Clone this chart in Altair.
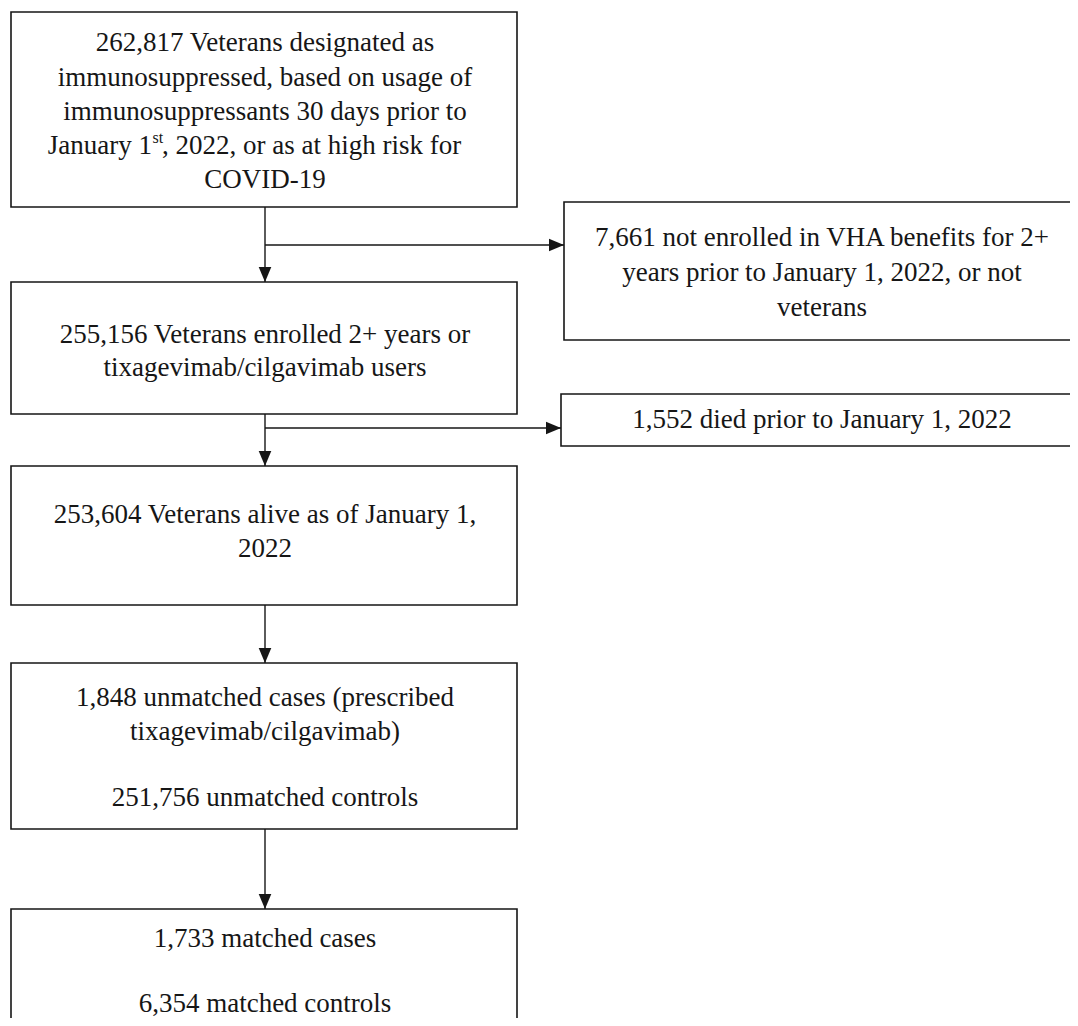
import altair as alt
import pandas as pd

# ---------------- content (text of the flow diagram) ----------------
main_box_lines = [
    ["262,817 Veterans designated as",
     "immunosuppressed, based on usage of",
     "immunosuppressants 30 days prior to",
     None,  # line with superscript, built from pieces below
     "COVID-19"],
    ["255,156 Veterans enrolled 2+ years or",
     "tixagevimab/cilgavimab users"],
    ["253,604 Veterans alive as of January 1,",
     "2022"],
    ["1,848 unmatched cases (prescribed",
     "tixagevimab/cilgavimab)",
     "251,756 unmatched controls"],
    ["1,733 matched cases",
     "6,354 matched controls"],
]
superscript_pieces = ["January 1", "st", ", 2022, or as at high risk for"]

excl_box_lines = [
    ["7,661 not enrolled in VHA benefits for 2+",
     "years prior to January 1, 2022, or not",
     "veterans"],
    ["1,552 died prior to January 1, 2022"],
]

# ---------------- layout (reference pixel coordinates) ----------------
main_x = [11, 517]
main_cx = 265
main_tops = [12, 282, 466, 663, 909]
main_bottoms = [207, 414, 605, 829, 1045]
main_line_y = [[43, 78, 112, 146, 180], [335, 368], [515, 549], [698, 732, 798], [939, 1004]]

excl_left = [564, 561]
excl_right = 1095
excl_tops = [202, 394]
excl_bottoms = [340, 446]
excl_cx = 822
excl_line_y = [[238, 273, 308], [420]]
branch_y = [245, 428]

sup_x = [152, 152.5, 162]
sup_y = [146, 138, 146]
sup_size = [27, 16, 27]
sup_align = ["right", "left", "left"]

FONT = "Liberation Serif, Times New Roman, DejaVu Serif, serif"
INK = "#161616"
FS = 27

# ---------------- tables ----------------
boxes = pd.DataFrame(
    [{"x0": main_x[0], "x1": main_x[1], "y0": t, "y1": b} for t, b in zip(main_tops, main_bottoms)]
    + [{"x0": l, "x1": excl_right, "y0": t, "y1": b} for l, t, b in zip(excl_left, excl_tops, excl_bottoms)]
)

texts = []
for lines, ys in zip(main_box_lines, main_line_y):
    for s, y in zip(lines, ys):
        if s is not None:
            texts.append({"x": main_cx, "y": y, "t": s})
for lines, ys in zip(excl_box_lines, excl_line_y):
    for s, y in zip(lines, ys):
        texts.append({"x": excl_cx, "y": y, "t": s})
texts = pd.DataFrame(texts)

sup = pd.DataFrame({"x": sup_x, "y": sup_y, "t": superscript_pieces,
                    "fs": sup_size, "al": sup_align})

vlines = pd.DataFrame({"x": [main_cx] * 4, "y0": main_bottoms[:4], "y1": main_tops[1:]})
hlines = pd.DataFrame({"x0": [main_cx] * 2, "x1": excl_left, "y": branch_y})

xs = alt.Scale(domain=[8, 1070], nice=False, zero=False)
ys = alt.Scale(domain=[8, 1018], nice=False, zero=False, reverse=True)

rects = alt.Chart(boxes).mark_rect(fill="white", stroke=INK, strokeWidth=1.6, clip=True).encode(
    x=alt.X("x0:Q", scale=xs, axis=None), x2="x1:Q",
    y=alt.Y("y0:Q", scale=ys, axis=None), y2="y1:Q")

vrules = alt.Chart(vlines).mark_rule(color=INK, strokeWidth=1.4).encode(
    x=alt.X("x:Q", scale=xs, axis=None),
    y=alt.Y("y0:Q", scale=ys, axis=None), y2="y1:Q")

hrules = alt.Chart(hlines).mark_rule(color=INK, strokeWidth=1.4).encode(
    x=alt.X("x0:Q", scale=xs, axis=None), x2="x1:Q",
    y=alt.Y("y:Q", scale=ys, axis=None))

down_heads = alt.Chart(vlines).mark_point(
    shape="M-0.42,-1L0.42,-1L0,0Z", filled=True, color=INK, opacity=1, size=900, strokeWidth=0
).encode(x=alt.X("x:Q", scale=xs, axis=None), y=alt.Y("y1:Q", scale=ys, axis=None))

right_heads = alt.Chart(hlines).mark_point(
    shape="M-1,-0.42L-1,0.42L0,0Z", filled=True, color=INK, opacity=1, size=900, strokeWidth=0
).encode(x=alt.X("x1:Q", scale=xs, axis=None), y=alt.Y("y:Q", scale=ys, axis=None))

labels = alt.Chart(texts).mark_text(font=FONT, fontSize=FS, color=INK, align="center",
                                    baseline="middle").encode(
    x=alt.X("x:Q", scale=xs, axis=None), y=alt.Y("y:Q", scale=ys, axis=None), text="t:N")

sup_layers = []
for al in ["right", "left"]:
    for fs in sorted(set(sup_size)):
        sub = sup[(sup["al"] == al) & (sup["fs"] == fs)]
        if len(sub) == 0:
            continue
        sup_layers.append(
            alt.Chart(sub).mark_text(font=FONT, fontSize=fs, color=INK, align=al,
                                     baseline="middle").encode(
                x=alt.X("x:Q", scale=xs, axis=None), y=alt.Y("y:Q", scale=ys, axis=None),
                text="t:N"))

chart = alt.layer(rects, vrules, hrules, down_heads, right_heads, labels, *sup_layers).properties(
    width=1062, height=1010, padding=0, autosize=alt.AutoSizeParams(type="none")
).configure_view(stroke=None)

chart.save("out.html", embed_options={"renderer": "svg", "actions": False})
